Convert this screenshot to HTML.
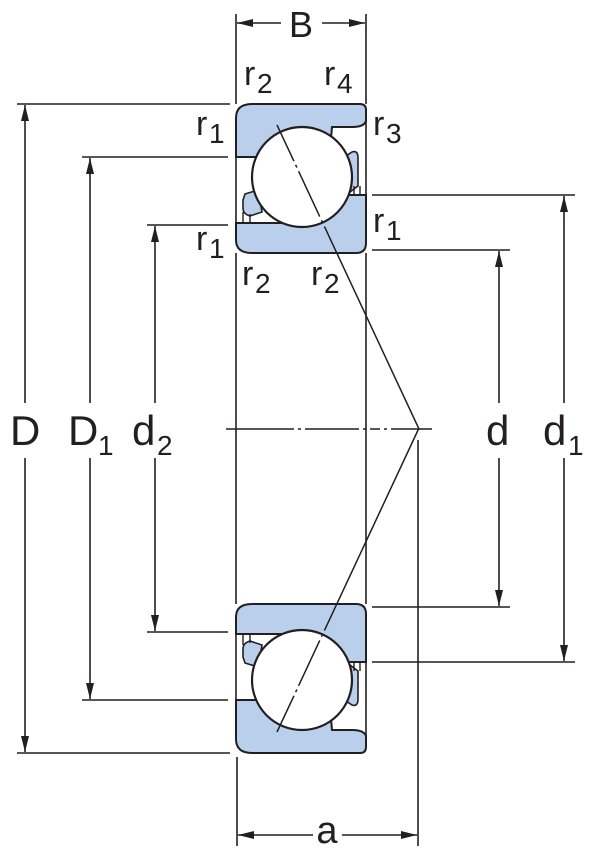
<!DOCTYPE html>
<html><head><meta charset="utf-8"><style>
html,body{margin:0;padding:0;background:#fff;}
svg{display:block;}
text{font-family:"Liberation Sans",sans-serif;fill:#231f20;}
</style></head><body>
<svg width="600" height="855" viewBox="0 0 600 855" xmlns="http://www.w3.org/2000/svg">
<defs>
<g id="half">
  <line x1="236" y1="150" x2="236" y2="230" stroke="#231f20" stroke-width="1.6"/>
  <line x1="366" y1="120" x2="366" y2="200" stroke="#231f20" stroke-width="1.6"/>
  <!-- outer ring -->
  <path d="M236,118 Q236,104 252,104 L360,104 Q366,104 366,110 L366,121 Q364,127 352,127 L332,127 L330,150 L300,157 L236,157 Z" fill="#b9cfec" stroke="#231f20" stroke-width="2"/>
  <!-- cage right -->
  <path d="M340,160 L352,152 Q358,150 358,158 L358,186 L350,192 L340,190 Z" fill="#b9cfec" stroke="#231f20" stroke-width="1.6"/>
  <line x1="354" y1="186" x2="354" y2="196" stroke="#231f20" stroke-width="1.4"/>
  <line x1="360" y1="186" x2="360" y2="196" stroke="#231f20" stroke-width="1.4"/>
  <!-- cage left -->
  <path d="M245,194 L258,190 L262,212 L250,216 Q243,214 243,208 L243,200 Z" fill="#b9cfec" stroke="#231f20" stroke-width="1.6"/>
  <line x1="243" y1="212" x2="243" y2="222" stroke="#231f20" stroke-width="1.4"/>
  <line x1="250" y1="214" x2="250" y2="222" stroke="#231f20" stroke-width="1.4"/>
  <!-- inner ring -->
  <path d="M236,223 L300,223 L300,195 L366,195 L366,243 Q366,253 356,253 L252,253 Q236,253 236,240 Z" fill="#b9cfec" stroke="#231f20" stroke-width="2"/>
  <!-- ball -->
  <circle cx="302" cy="177" r="50" fill="#fff" stroke="#231f20" stroke-width="2.2"/>
  <!-- contact line -->
  <line x1="277" y1="125" x2="419" y2="429" stroke="#231f20" stroke-width="1.5" stroke-dasharray="40,4,3,4,50,4,3,4,400"/>
</g>
<marker id="ar" viewBox="0 0 16 8" refX="16" refY="4" markerWidth="16" markerHeight="8" markerUnits="userSpaceOnUse" orient="auto">
  <path d="M0,0 L16,4 L0,8 Z" fill="#231f20"/>
</marker>
</defs>

<use href="#half"/>
<use href="#half" transform="translate(0,857) scale(1,-1)"/>

<g stroke="#231f20" stroke-width="1.6" fill="none">
  <line x1="236" y1="14" x2="236" y2="104"/>
  <line x1="366" y1="14" x2="366" y2="104"/>
  <line x1="236" y1="253" x2="236" y2="604"/>
  <line x1="366" y1="253" x2="366" y2="604"/>
  <line x1="237" y1="757" x2="237" y2="846"/>
  <line x1="418" y1="440" x2="418" y2="846"/>
  <line x1="226" y1="429" x2="432" y2="429" stroke-dasharray="68,4,3,4,54,4,3,4,10,4,3,4,60"/>
  <line x1="17" y1="104" x2="230" y2="104"/>
  <line x1="17" y1="753" x2="230" y2="753"/>
  <line x1="82" y1="157" x2="228" y2="157"/>
  <line x1="82" y1="700" x2="228" y2="700"/>
  <line x1="147" y1="225" x2="228" y2="225"/>
  <line x1="147" y1="632" x2="228" y2="632"/>
  <line x1="372" y1="195" x2="575" y2="195"/>
  <line x1="372" y1="662" x2="575" y2="662"/>
  <line x1="372" y1="250" x2="510" y2="250"/>
  <line x1="372" y1="607" x2="510" y2="607"/>
  <line x1="25" y1="403" x2="25" y2="105" marker-end="url(#ar)"/>
  <line x1="25" y1="458" x2="25" y2="752" marker-end="url(#ar)"/>
  <line x1="90" y1="403" x2="90" y2="158" marker-end="url(#ar)"/>
  <line x1="90" y1="458" x2="90" y2="699" marker-end="url(#ar)"/>
  <line x1="155" y1="403" x2="155" y2="226" marker-end="url(#ar)"/>
  <line x1="155" y1="458" x2="155" y2="631" marker-end="url(#ar)"/>
  <line x1="499" y1="403" x2="499" y2="251" marker-end="url(#ar)"/>
  <line x1="499" y1="458" x2="499" y2="606" marker-end="url(#ar)"/>
  <line x1="564" y1="403" x2="564" y2="196" marker-end="url(#ar)"/>
  <line x1="564" y1="458" x2="564" y2="661" marker-end="url(#ar)"/>
  <line x1="281" y1="23" x2="237" y2="23" marker-end="url(#ar)"/>
  <line x1="322" y1="23" x2="365" y2="23" marker-end="url(#ar)"/>
  <line x1="313" y1="835" x2="238" y2="835" marker-end="url(#ar)"/>
  <line x1="342" y1="835" x2="417" y2="835" marker-end="url(#ar)"/>
</g>

<text x="301" y="37" font-size="36" text-anchor="middle">B</text>
<text x="327" y="843" font-size="38" text-anchor="middle">a</text>

<text x="10" y="445" font-size="42">D</text>
<text x="68" y="445" font-size="42">D</text><text x="98" y="455" font-size="28">1</text>
<text x="132" y="445" font-size="42">d</text><text x="157" y="455" font-size="28">2</text>
<text x="486" y="445" font-size="42">d</text>
<text x="543" y="445" font-size="42">d</text><text x="568" y="455" font-size="28">1</text>

<g font-size="34">
<text x="244" y="85">r</text><text x="257" y="93" font-size="28">2</text>
<text x="324" y="85">r</text><text x="337" y="93" font-size="28">4</text>
<text x="196" y="135">r</text><text x="209" y="143" font-size="28">1</text>
<text x="373" y="135">r</text><text x="386" y="143" font-size="28">3</text>
<text x="373" y="232">r</text><text x="386" y="240" font-size="28">1</text>
<text x="196" y="250">r</text><text x="209" y="258" font-size="28">1</text>
<text x="242" y="285">r</text><text x="255" y="293" font-size="28">2</text>
<text x="311" y="285">r</text><text x="324" y="293" font-size="28">2</text>
</g>
</svg>
</body></html>
